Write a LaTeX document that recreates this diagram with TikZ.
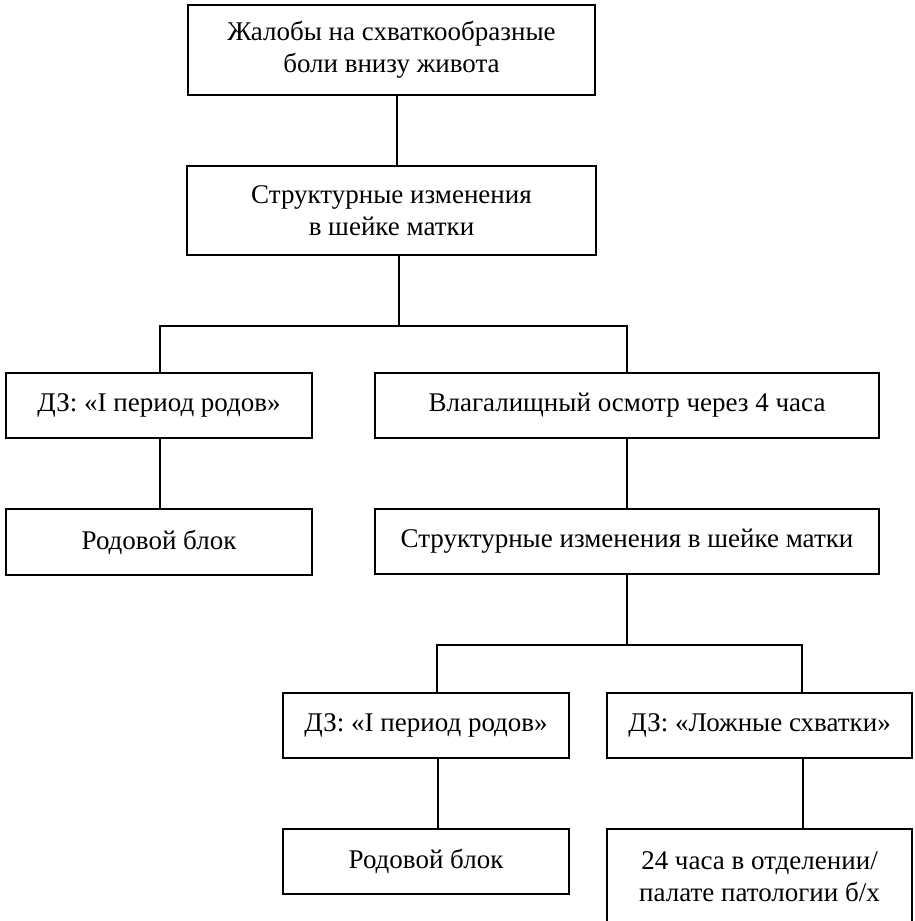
\documentclass[tikz,border=0pt]{standalone}
\usepackage{fontspec}
\setmainfont{Liberation Serif}
\begin{document}
\begin{tikzpicture}[x=1pt,y=-1pt,
  box/.style={draw=black, line width=1.8pt, fill=white, align=center, inner sep=0pt,
    font=\fontsize{27}{32}\selectfont},
  conn/.style={draw=black, line width=1.8pt}]
\useasboundingbox (0,0) rectangle (914,921);
\node[box, minimum width=407pt, minimum height=90pt] (b1) at (391.5,50) {Жалобы на схваткообразные\\боли внизу живота};
\node[box, minimum width=409pt, minimum height=89pt] (b2) at (391.5,210.5) {Структурные изменения\\в шейке матки};
\node[box, minimum width=306pt, minimum height=65pt] (b3) at (159,405.5) {ДЗ: «I период родов»};
\node[box, minimum width=504pt, minimum height=65pt] (b4) at (627,405.5) {Влагалищный осмотр через 4 часа};
\node[box, minimum width=306pt, minimum height=66pt] (b5) at (159,542) {Родовой блок};
\node[box, minimum width=504pt, minimum height=65pt] (b6) at (627,541.5) {Структурные изменения в шейке матки};
\node[box, minimum width=286pt, minimum height=65pt] (b7) at (426,725.5) {ДЗ: «I период родов»};
\node[box, minimum width=305pt, minimum height=65pt] (b8) at (759.5,725.5) {ДЗ: «Ложные схватки»};
\node[box, minimum width=286pt, minimum height=65pt] (b9) at (426,861.5) {Родовой блок};
\node[box, minimum width=305pt, minimum height=96pt] (b10) at (759.5,877) {24 часа в отделении/\\палате патологии б/х};
\coordinate (j1) at (399,326);
\coordinate (j2) at (627,645);
\draw[conn] ([xshift=5.5pt]b1.south) -- ([xshift=5.5pt]b2.north);
\draw[conn] ([xshift=7.5pt]b2.south) -- (j1);
\draw[conn] ([xshift=1pt]b3.north) |- (j1) -| (b4.north);
\draw[conn] ([xshift=1pt]b3.south) -- ([xshift=1pt]b5.north);
\draw[conn] (b4.south) -- (b6.north);
\draw[conn] (b6.south) -- (j2);
\draw[conn] ([xshift=11pt]b7.north) |- (j2) -| ([xshift=42.5pt]b8.north);
\draw[conn] ([xshift=12pt]b7.south) -- ([xshift=12pt]b9.north);
\draw[conn] ([xshift=43.5pt]b8.south) -- ([xshift=43.5pt]b10.north);
\end{tikzpicture}
\end{document}
